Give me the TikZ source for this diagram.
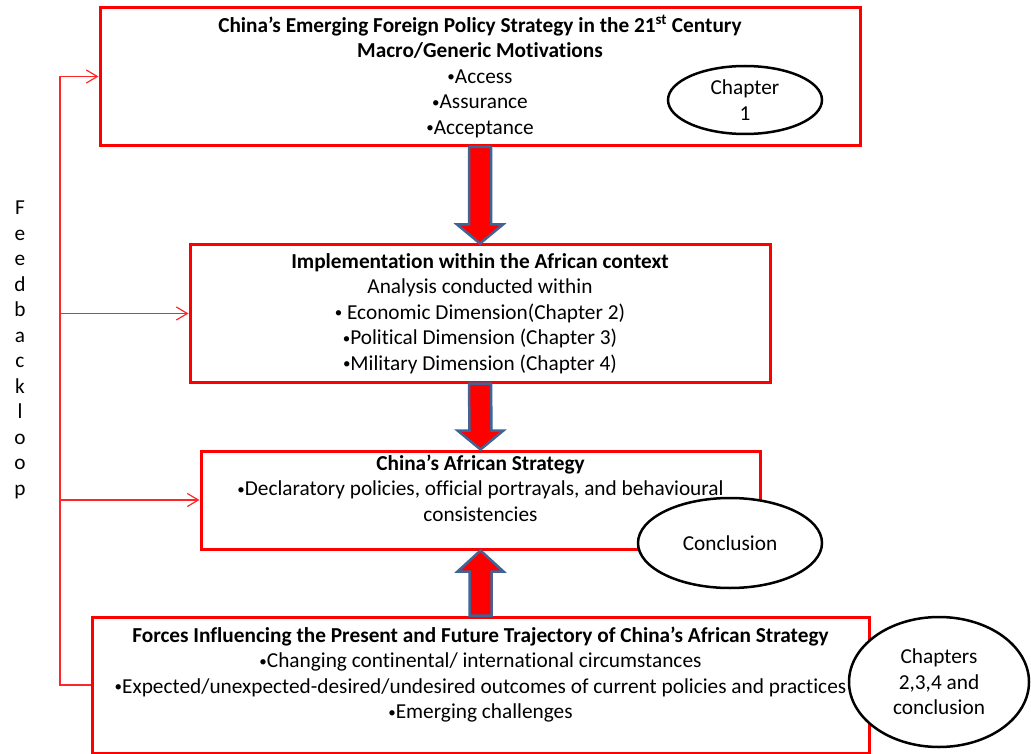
\documentclass[tikz,border=0pt]{standalone}
\usepackage{fontspec}
\setmainfont{Carlito}[Ligatures=NoCommon]
\usetikzlibrary{arrows.meta}
\usetikzlibrary{calc}
\usetikzlibrary{positioning}
\usetikzlibrary{shapes.geometric}

\definecolor{boxred}{RGB}{255,0,0}
\definecolor{arrowblue}{RGB}{65,100,150}
\newcommand{\dotmark}{\raisebox{1.6pt}{\fontsize{15}{15}\selectfont •}}

\begin{document}
\begin{tikzpicture}[
            x=1pt, y=-1pt,
            font=\fontsize{21.3}{25.5}\selectfont,
            stage/.style={draw=boxred, line width=3pt, rectangle, inner sep=0pt, align=center},
            stagetext/.style={align=center, inner sep=0pt},
            chapter/.style={draw=black, fill=white, line width=2.5pt, ellipse, inner sep=0pt, align=center},
            fatarrow/.style={draw=arrowblue, fill=red, line width=2.5pt, line join=miter},
            feedback/.style={draw=red!85, line width=1.2pt},
            fbtip/.style={-{Straight Barb[length=11pt, width=13pt]}}
        ]
            \useasboundingbox (0,0) rectangle (1031,754);

            % Cajas principales
            \node[stage, minimum width=760pt, minimum height=138pt] (motives) at (480,76.5)
                {\textbf{China’s Emerging Foreign Policy Strategy in the 21\textsuperscript{st} Century}\\
                 \textbf{Macro/Generic Motivations}\\
                 \dotmark Access\\ \dotmark Assurance\\ \dotmark Acceptance};
            \node[stage, minimum width=580pt, minimum height=137pt] (impl) at (480,313.5)
                {\textbf{Implementation within the African context}\\
                 Analysis conducted within\\
                 \dotmark{} Economic Dimension(Chapter 2)\\
                 \dotmark Political Dimension (Chapter 3)\\
                 \dotmark Military Dimension (Chapter 4)};
            \node[stage, minimum width=559pt, minimum height=98pt] (strat) at (480.5,500) {};
            \node[stagetext, below=5pt of strat.north] (strattext)
                {\textbf{China’s African Strategy}\\
                 \dotmark Declaratory policies, official portrayals, and behavioural\\
                 consistencies};
            \node[stage, minimum width=777pt, minimum height=136pt] (forces) at (480.5,685) {};
            \node[stagetext, below=11pt of forces.north] (forcestext)
                {\textbf{Forces Influencing the Present and Future Trajectory of China’s African Strategy}\\
                 \dotmark Changing continental/ international circumstances\\
                 \dotmark Expected/unexpected-desired/undesired outcomes of current policies and practices\\
                 \dotmark Emerging challenges};

            % Flechas gruesas
            \draw[fatarrow] ($(motives.south)+(-11,0)$) -- ($(impl.north)+(-11,-19)$)
                -- ($(impl.north)+(-23,-19)$) -- (impl.north) -- ($(impl.north)+(23,-19)$)
                -- ($(impl.north)+(11,-19)$) -- ($(motives.south)+(11,0)$) -- cycle;
            \draw[fatarrow] ($(impl.south)+(-11,0)$) -- ($(strat.north)+(-11,-19)$)
                -- ($(strat.north)+(-23,-19)$) -- (strat.north) -- ($(strat.north)+(23,-19)$)
                -- ($(strat.north)+(11,-19)$) -- ($(impl.south)+(11,0)$) -- cycle;
            \draw[fatarrow] ($(forces.north)+(-11,0)$) -- ($(strat.south)+(-11,21)$)
                -- ($(strat.south)+(-23,21)$) -- (strat.south) -- ($(strat.south)+(23,21)$)
                -- ($(strat.south)+(11,21)$) -- ($(forces.north)+(11,0)$) -- cycle;

            % Elipses de capitulos
            \node[chapter, minimum width=154pt, minimum height=68pt] (ch1) at (745,100) {Chapter\\1};
            \node[chapter, minimum width=184pt, minimum height=90pt] (concl) at (730,543) {Conclusion};
            \node[chapter, minimum width=180pt, minimum height=130pt] (chall) at (939,682)
                {Chapters\\2,3,4 and\\conclusion};

            % Lazo de retroalimentacion
            \coordinate (fbx) at (60,0);
            \draw[feedback, fbtip] (forces.west) -- (fbx |- forces.west) |- (motives.west);
            \draw[feedback, fbtip] (fbx |- impl.west) -- (impl.west);
            \draw[feedback, fbtip] (fbx |- strat.west) -- (strat.west);
            \node[stagetext] (fblabel) at (20,350) {F\\e\\e\\d\\b\\a\\c\\k\\l\\o\\o\\p};

        \end{tikzpicture}
\end{document}
